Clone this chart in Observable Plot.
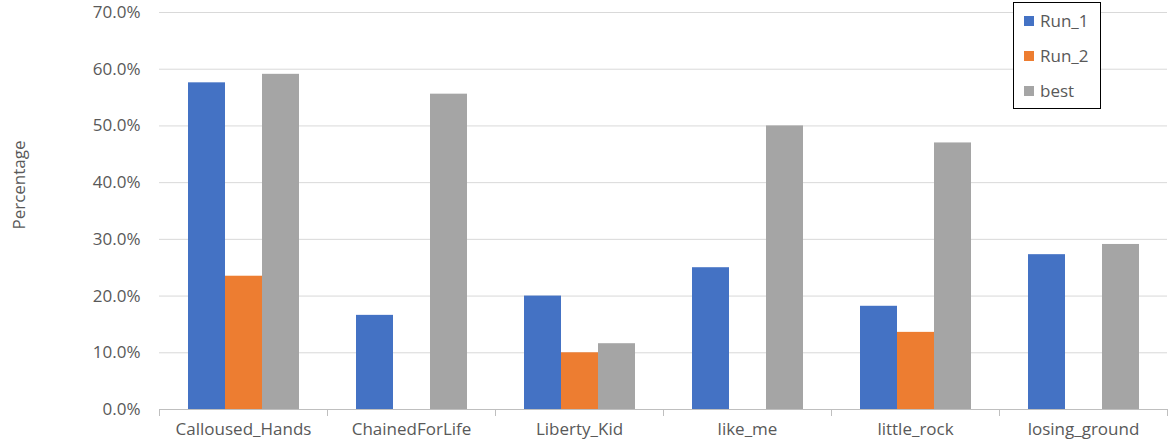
<!DOCTYPE html>
<html>
<head>
<meta charset="utf-8">
<script src="https://cdn.jsdelivr.net/npm/d3@7"></script>
<script src="https://cdn.jsdelivr.net/npm/@observablehq/plot@0.6"></script>
<style>
  body { margin: 0; background: #fff; }
  #wrap { position: relative; width: 1172px; height: 448px; font-family: "Open Sans", sans-serif; }
  #ylabel { position: absolute; left: 18px; top: 185px; transform: translate(-50%, -50%) rotate(-90deg); font-size: 17px; color: #595959; white-space: nowrap; }
  #legend { position: absolute; left: 1013px; top: 2px; width: 88px; height: 107px; border: 1.5px solid #000; box-sizing: border-box; background: #fff; font-size: 17px; color: #595959; }
  .item { position: absolute; left: 10px; display: flex; align-items: center; line-height: 20px; }
  .sw { width: 10px; height: 10px; margin-right: 6px; }
</style>
</head>
<body>
<div id="wrap">
  <div id="chart"></div>
  <div id="ylabel">Percentage</div>
  <div id="legend"></div>
</div>
<script>
const categories = ["Calloused_Hands", "ChainedForLife", "Liberty_Kid", "like_me", "little_rock", "losing_ground"];
const seriesNames = ["Run_1", "Run_2", "best"];
const run1 = [0.576, 0.166, 0.200, 0.250, 0.182, 0.273];
const run2 = [0.235, 0, 0.100, 0, 0.136, 0];
const best = [0.591, 0.556, 0.116, 0.500, 0.470, 0.291];
const colors = ["#4472C4", "#ED7D31", "#A5A5A5"];
const yTicks = [0, 0.1, 0.2, 0.3, 0.4, 0.5, 0.6, 0.7];

const seriesValues = [run1, run2, best];
const data = [];
categories.forEach((c, i) => {
  seriesNames.forEach((s, j) => data.push({category: c, series: s, value: seriesValues[j][i]}));
});

const chart = Plot.plot({
  width: 1172,
  height: 448,
  marginLeft: 158,
  marginRight: 4,
  marginTop: 12,
  marginBottom: 39,
  style: {fontFamily: "'Open Sans', sans-serif", fontSize: "17px", color: "#595959", background: "#fff"},
  fx: {domain: categories, padding: 0, label: null, tickSize: 0, tickPadding: 13},
  x: {domain: seriesNames, axis: null, paddingInner: 0, paddingOuter: 0.75},
  y: {domain: [0, 0.7], ticks: yTicks, tickFormat: d3.format(".1%"), label: null, tickSize: 0, tickPadding: 19},
  color: {domain: seriesNames, range: colors},
  marks: [
    Plot.gridY(yTicks, {stroke: "#d9d9d9", strokeOpacity: 1, strokeWidth: 1}),
    Plot.barY(data, {fx: "category", x: "series", y: "value", fill: "series"}),
    Plot.ruleY([0], {stroke: "#bfbfbf", strokeWidth: 1}),
    Plot.frame({anchor: "left", stroke: "#bfbfbf", insetTop: 397, insetBottom: -6}),
    Plot.frame({anchor: "right", stroke: "#bfbfbf", insetTop: 397, insetBottom: -6})
  ]
});
document.getElementById("chart").appendChild(chart);

const legend = document.getElementById("legend");
seriesNames.forEach((s, i) => {
  const it = document.createElement("div");
  it.className = "item";
  it.style.top = (8 + i * 35) + "px";
  it.innerHTML = `<div class="sw" style="background:${colors[i]}"></div><span>${s}</span>`;
  legend.appendChild(it);
});
</script>
</body>
</html>
